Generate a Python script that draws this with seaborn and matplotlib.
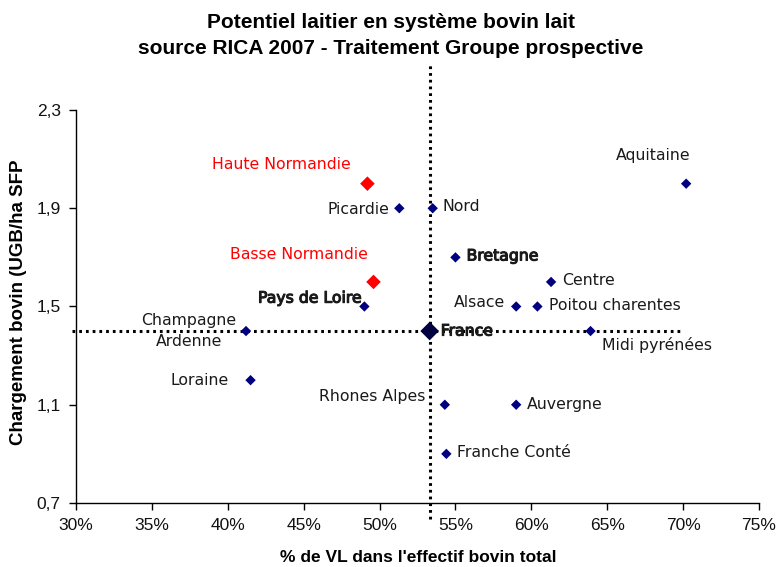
import matplotlib
matplotlib.use("Agg")
import matplotlib.pyplot as plt
import matplotlib.patheffects as pe
import seaborn as sns
import pandas as pd

# ---- data ----
regions = ["Haute Normandie", "Picardie", "Nord", "Bretagne", "Basse Normandie",
           "Centre", "Aquitaine", "Pays de Loire", "Alsace", "Poitou charentes",
           "Champagne\nArdenne", "France", "Midi pyrénées", "Loraine",
           "Rhones Alpes", "Auvergne", "Franche Conté"]
pct_vl = [49.2, 51.3, 53.5, 55.0, 49.6, 61.3, 70.2, 49.0, 59.0, 60.4,
          41.2, 53.3, 63.9, 41.5, 54.3, 59.0, 54.4]
chargement = [2.0, 1.9, 1.9, 1.7, 1.6, 1.6, 2.0, 1.5, 1.5, 1.5,
              1.4, 1.4, 1.4, 1.2, 1.1, 1.1, 0.9]
groups = ["red", "std", "std", "std", "red", "std", "std", "std", "std", "std",
          "std", "france", "std", "std", "std", "std", "std"]

x_ticks = [30, 35, 40, 45, 50, 55, 60, 65, 70, 75]
y_ticks = [0.7, 1.1, 1.5, 1.9, 2.3]
france_x = 53.3
france_y = 1.4

df = pd.DataFrame({"region": regions, "x": pct_vl, "y": chargement, "g": groups})

# label placement (offset in points, ha, va, color, emphasis)
label_style = {
    "Haute Normandie": ((-12, 14), "right", "center", "red", False),
    "Picardie": ((-7, -1), "right", "center", "#1a1a1a", False),
    "Nord": ((7, 1), "left", "center", "#1a1a1a", False),
    "Bretagne": ((8, 1), "left", "center", "#1a1a1a", True),
    "Basse Normandie": ((-4, 20), "right", "center", "red", False),
    "Centre": ((8, 1), "left", "center", "#1a1a1a", False),
    "Aquitaine": ((-24, 20), "center", "center", "#1a1a1a", False),
    "Pays de Loire": ((-2, 6), "right", "center", "#1a1a1a", True),
    "Alsace": ((-8, 3), "right", "center", "#1a1a1a", False),
    "Poitou charentes": ((8, 1), "left", "center", "#1a1a1a", False),
    "Champagne\nArdenne": ((-41, 0), "center", "center", "#1a1a1a", False),
    "France": ((8, 0), "left", "center", "#1a1a1a", True),
    "Midi pyrénées": ((8, -10), "left", "center", "#1a1a1a", False),
    "Loraine": ((-16, 0), "right", "center", "#1a1a1a", False),
    "Rhones Alpes": ((-14, 6), "right", "center", "#1a1a1a", False),
    "Auvergne": ((8, 0), "left", "center", "#1a1a1a", False),
    "Franche Conté": ((8, 1), "left", "center", "#1a1a1a", False),
}

sns.set_theme(style="white")
plt.rcParams["font.family"] = ["Liberation Sans", "DejaVu Sans"]

fig = plt.figure(figsize=(7.78, 5.67), dpi=100)
ax = fig.add_axes([0.0977, 0.1129, 0.8779, 0.6931])

# reference dotted lines through France
ax.plot([29.75, 70.0], [france_y, france_y], color="black", lw=2.2,
        linestyle=(0, (0.9, 1.3)), clip_on=False, zorder=1)
ax.plot([france_x, france_x], [0.635, 2.495], color="black", lw=2.2,
        linestyle=(0, (0.9, 1.3)), clip_on=False, zorder=1)

sns.scatterplot(data=df[df.g == "std"], x="x", y="y", ax=ax, marker="D",
                color="#000080", s=28, edgecolor="none", zorder=3, legend=False)
sns.scatterplot(data=df[df.g == "red"], x="x", y="y", ax=ax, marker="D",
                color="#ff0000", s=55, edgecolor="none", zorder=3, legend=False)
sns.scatterplot(data=df[df.g == "france"], x="x", y="y", ax=ax, marker="D",
                color="#000040", s=90, edgecolor="none", zorder=3, legend=False)

for r, xv, yv in zip(regions, pct_vl, chargement):
    off, ha, va, col, emph = label_style[r]
    t = ax.annotate(r, (xv, yv), xytext=off, textcoords="offset points", ha=ha,
                    va=va, color=col, fontsize=11.3,
                    family=["DejaVu Sans"], linespacing=1.5, zorder=4)
    if emph:
        # semi-bold look, same width as regular text
        t.set_path_effects([pe.withStroke(linewidth=0.8, foreground=col)])

ax.set_xlim(30, 75)
ax.set_ylim(0.7, 2.3)
ax.set_xticks(x_ticks)
ax.set_xticklabels([f"{t}%" for t in x_ticks])
ax.set_yticks(y_ticks)
ax.set_yticklabels([f"{t:.1f}".replace(".", ",") for t in y_ticks])
ax.tick_params(axis="both", which="both", direction="out", length=5, width=1,
               color="black", labelsize=12.5, labelcolor="#111111", bottom=True,
               left=True, pad=6)
for side in ["top", "right"]:
    ax.spines[side].set_visible(False)
for side in ["left", "bottom"]:
    ax.spines[side].set_color("black")
    ax.spines[side].set_linewidth(1)

ax.set_xlabel("% de VL dans l'effectif bovin total", fontsize=12.5,
              fontweight="bold", color="black")
ax.set_ylabel("Chargement bovin (UGB/ha SFP", fontsize=13.5, fontweight="bold",
              color="black")
# place axis labels where the reference has them
ax.xaxis.set_label_coords((418 - 76) / 683, (503 - 550) / 393)
ax.yaxis.set_label_coords((27 - 76) / 683, (503 - 302) / 393)

fig.text(0.502, 1 - 22 / 567, "Potentiel laitier en système bovin lait",
         ha="center", va="center", fontsize=15, fontweight="bold", color="black")
fig.text(0.502, 1 - 49 / 567, "source RICA 2007 - Traitement Groupe prospective",
         ha="center", va="center", fontsize=15, fontweight="bold", color="black")

fig.savefig("out.png", dpi=100, facecolor="white")
